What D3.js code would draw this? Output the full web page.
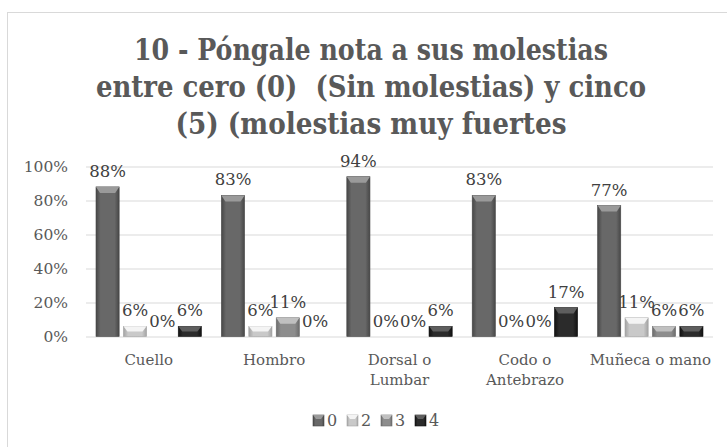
<!DOCTYPE html>
<html>
<head>
<meta charset="utf-8">
<script src="https://cdn.jsdelivr.net/npm/d3@7"></script>
<style>
  body { margin: 0; background: #fff; }
  svg { display: block; }
  .title text { white-space: pre; }
</style>
</head>
<body>
<svg id="chart" width="727" height="447"></svg>
<script>
const titleLines = [
  "10 - Póngale nota a sus molestias",
  "entre cero (0)  (Sin molestias) y cinco",
  "(5) (molestias muy fuertes",
];
const titleWidths = [474, 550, 391];

const categories = ["Cuello", "Hombro", "Dorsal o\nLumbar", "Codo o\nAntebrazo", "Muñeca o mano"];
const seriesNames = ["0", "2", "3", "4"];

// one array per series, percent of answers
const s0 = [0.88, 0.83, 0.94, 0.83, 0.77];
const s2 = [0.06, 0.06, 0.0, 0.0, 0.11];
const s3 = [0.0, 0.11, 0.0, 0.0, 0.06];
const s4 = [0.06, 0.0, 0.06, 0.17, 0.06];
const seriesValues = [s0, s2, s3, s4];

const yTicks = [0, 0.2, 0.4, 0.6, 0.8, 1];

const colors = {
  "0": { base: "#686868", edge: "#474747", top: "#9a9a9a" },
  "2": { base: "#c9c9c9", edge: "#a3a3a3", top: "#f4f4f4" },
  "3": { base: "#8d8d8d", edge: "#6c6c6c", top: "#c0c0c0" },
  "4": { base: "#2b2b2b", edge: "#111111", top: "#5e5e5e" },
};

function drawChart() {
  const svg = d3.select("#chart");
  const fontSerif = "'DejaVu Serif', serif";
  const textColor = "#595959";

  // outer chart frame
  svg.append("rect")
    .attr("x", 7.5).attr("y", 12.5)
    .attr("width", 740).attr("height", 460)
    .attr("fill", "#fff")
    .attr("stroke", "#d9d9d9");

  // gradients for the bevelled bars
  const defs = svg.append("defs");
  seriesNames.forEach((s) => {
    const g = defs.append("linearGradient")
      .attr("id", "grad" + s)
      .attr("x1", "0").attr("x2", "1").attr("y1", "0").attr("y2", "0");
    g.append("stop").attr("offset", "0").attr("stop-color", colors[s].edge);
    g.append("stop").attr("offset", "0.2").attr("stop-color", colors[s].base);
    g.append("stop").attr("offset", "0.8").attr("stop-color", colors[s].base);
    g.append("stop").attr("offset", "1").attr("stop-color", colors[s].edge);
  });

  // title
  svg.append("g")
    .attr("class", "title")
    .selectAll("text")
    .data(titleLines)
    .enter()
    .append("text")
    .attr("x", 371)
    .attr("y", (d, i) => 60 + i * 37)
    .attr("text-anchor", "middle")
    .attr("font-family", "'DejaVu Serif Condensed', 'DejaVu Serif', serif")
    .attr("font-weight", "bold")
    .attr("font-size", 30)
    .attr("fill", textColor)
    .attr("textLength", (d, i) => titleWidths[i])
    .attr("lengthAdjust", "spacingAndGlyphs")
    .text((d) => d);

  const x0 = d3.scaleBand()
    .domain(categories)
    .range([86, 713]);

  const x1 = d3.scaleBand()
    .domain(seriesNames)
    .range([10, x0.bandwidth() - 10])
    .paddingInner(0.155);

  const y = d3.scaleLinear()
    .domain([0, 1])
    .range([336.5, 166.5]);

  // y axis with gridlines
  const yAxis = svg.append("g")
    .attr("transform", "translate(86,0)")
    .call(
      d3.axisLeft(y)
        .tickValues(yTicks)
        .tickSize(-(713 - 86))
        .tickPadding(18)
        .tickFormat(d3.format(".0%"))
    );
  yAxis.select(".domain").remove();
  yAxis.selectAll(".tick line").attr("stroke", "#d9d9d9").attr("stroke-width", 1);
  yAxis.selectAll(".tick text")
    .attr("font-family", fontSerif)
    .attr("font-size", 15.5)
    .attr("fill", textColor)
    .attr("dy", "0.35em");

  // bars
  const groups = svg.append("g")
    .selectAll("g")
    .data(categories)
    .enter()
    .append("g")
    .attr("transform", (d) => `translate(${x0(d)},0)`);

  const bars = groups.selectAll("g.bar")
    .data((d, ci) => seriesNames.map((s, si) => ({ s, v: seriesValues[si][ci] })))
    .enter()
    .append("g")
    .attr("class", "bar");

  bars.filter((d) => d.v > 0)
    .append("rect")
    .attr("x", (d) => x1(d.s))
    .attr("y", (d) => y(d.v))
    .attr("width", x1.bandwidth())
    .attr("height", (d) => y(0) - y(d.v))
    .attr("fill", (d) => `url(#grad${d.s})`)
    .attr("stroke", (d) => colors[d.s].edge)
    .attr("stroke-width", 0.6);

  // top bevel
  bars.filter((d) => d.v > 0)
    .append("path")
    .attr("d", (d) => {
      const bx = x1(d.s);
      const bw = x1.bandwidth();
      const by = y(d.v);
      const bev = Math.min(6, (y(0) - by) / 2);
      return `M${bx},${by}L${bx + bw},${by}L${bx + bw - 4},${by + bev}L${bx + 4},${by + bev}Z`;
    })
    .attr("fill", (d) => colors[d.s].top);

  // data labels
  bars.append("text")
    .attr("x", (d) => x1(d.s) + x1.bandwidth() / 2)
    .attr("y", (d) => y(d.v) - 10)
    .attr("text-anchor", "middle")
    .attr("font-family", fontSerif)
    .attr("font-size", 16.5)
    .attr("fill", "#404040")
    .text((d) => d3.format(".0%")(d.v));

  // category labels
  const xAxis = svg.append("g")
    .attr("transform", "translate(0,336.5)")
    .call(d3.axisBottom(x0).tickSize(0).tickFormat(""));
  xAxis.select(".domain").remove();

  xAxis.selectAll(".tick")
    .append("text")
    .attr("font-family", fontSerif)
    .attr("font-size", 15)
    .attr("fill", textColor)
    .attr("text-anchor", "middle")
    .selectAll("tspan")
    .data((d) => d.split("\n"))
    .enter()
    .append("tspan")
    .attr("x", 0)
    .attr("y", (d, i) => 28.5 + i * 20)
    .text((d) => d);

  // legend
  const legend = svg.append("g")
    .selectAll("g")
    .data(seriesNames)
    .enter()
    .append("g")
    .attr("transform", (d, i) => `translate(${313 + i * 34},415)`);

  legend.append("rect")
    .attr("width", 11)
    .attr("height", 11)
    .attr("fill", (d) => `url(#grad${d})`)
    .attr("stroke", (d) => colors[d].edge)
    .attr("stroke-width", 0.6);

  legend.append("path")
    .attr("d", "M0,0L11,0L8,4L3,4Z")
    .attr("fill", (d) => colors[d].top);

  legend.append("text")
    .attr("x", 14)
    .attr("y", 11)
    .attr("font-family", fontSerif)
    .attr("font-size", 16)
    .attr("fill", textColor)
    .text((d) => d);
}

drawChart();
</script>
</body>
</html>
